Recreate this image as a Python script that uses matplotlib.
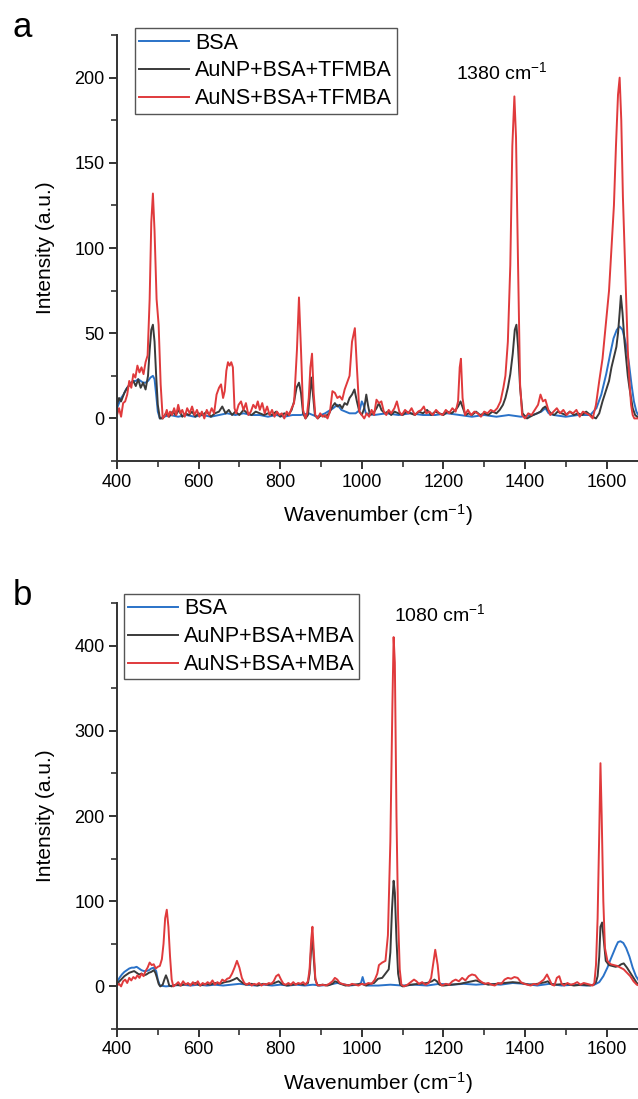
import matplotlib
matplotlib.use('Agg')
from matplotlib import pyplot as plt
from matplotlib.ticker import MultipleLocator

plt.rcParams['font.family'] = ['Liberation Sans', 'DejaVu Sans']
plt.rcParams['mathtext.fontset'] = 'custom'
plt.rcParams['mathtext.rm'] = 'Liberation Sans'
plt.rcParams['mathtext.it'] = 'Liberation Sans:italic'
plt.rcParams['mathtext.default'] = 'regular'

# spectra: (wavenumber, intensity)
# ---- panel a : TFMBA ----
bsa_a = [(400, 6), (405, 9), (410, 12), (416, 14), (422, 17), (428, 19), (434, 21), (440, 22), (446, 22),
         (452, 23), (458, 22), (464, 21), (470, 21), (476, 22), (482, 24), (488, 25), (492, 23), (496, 14),
         (500, 4), (505, 0), (515, 1), (530, 2), (550, 1), (570, 2), (590, 1), (610, 2), (630, 1), (650, 2),
         (670, 3), (690, 2), (710, 3), (730, 2), (750, 2), (770, 1), (790, 2), (810, 1), (830, 2), (850, 2),
         (870, 3), (890, 1), (910, 3), (930, 6), (940, 8), (950, 5), (960, 4), (970, 3), (985, 3), (995, 5),
         (1000, 10), (1004, 8), (1010, 3), (1030, 2), (1060, 3), (1090, 2), (1120, 3), (1150, 2), (1180, 2),
         (1210, 3), (1240, 2), (1270, 1), (1300, 2), (1330, 1), (1360, 2), (1390, 1), (1420, 2), (1440, 4),
         (1450, 6), (1458, 3), (1470, 2), (1500, 1), (1530, 2), (1560, 2), (1575, 6), (1587, 14), (1599, 26),
         (1609, 38), (1617, 47), (1625, 52), (1632, 54), (1639, 52), (1647, 44), (1655, 32), (1661, 20),
         (1667, 10), (1673, 4), (1680, 1)]

np_a = [(400, 8), (405, 12), (410, 10), (418, 15), (425, 18), (432, 20), (440, 22), (446, 19), (452, 23),
        (458, 18), (464, 21), (470, 17), (476, 25), (480, 40), (484, 52), (488, 55), (492, 45), (496, 25),
        (500, 8), (505, 0), (512, 0), (520, 3), (528, 1), (536, 4), (544, 2), (552, 5), (560, 1), (568, 3),
        (576, 2), (584, 4), (592, 1), (600, 3), (610, 2), (620, 4), (630, 1), (640, 3), (650, 4), (658, 7),
        (666, 3), (674, 5), (682, 2), (690, 4), (700, 2), (710, 5), (720, 3), (730, 2), (740, 4), (750, 3),
        (760, 2), (770, 3), (780, 2), (790, 4), (800, 1), (810, 3), (820, 2), (828, 5), (834, 10), (840, 18),
        (846, 21), (851, 15), (856, 3), (862, 0), (868, 2), (872, 12), (876, 24), (880, 15), (885, 2),
        (892, 0), (900, 2), (910, 1), (920, 3), (928, 7), (934, 9), (940, 7), (946, 8), (952, 6), (958, 9),
        (964, 8), (970, 12), (976, 14), (982, 17), (988, 10), (994, 4), (1000, 2), (1006, 6), (1011, 14),
        (1015, 8), (1020, 2), (1028, 3), (1036, 6), (1042, 9), (1048, 5), (1056, 3), (1064, 4), (1072, 2),
        (1080, 4), (1090, 3), (1100, 2), (1110, 4), (1120, 3), (1130, 2), (1140, 4), (1150, 3), (1160, 5),
        (1170, 2), (1180, 4), (1190, 3), (1200, 2), (1210, 4), (1220, 3), (1230, 5), (1236, 7), (1242, 10),
        (1248, 6), (1254, 2), (1262, 3), (1270, 2), (1280, 4), (1290, 2), (1300, 3), (1310, 2), (1320, 4),
        (1330, 3), (1338, 5), (1346, 8), (1352, 12), (1358, 18), (1364, 26), (1370, 38), (1375, 52),
        (1379, 55), (1383, 42), (1388, 18), (1394, 3), (1405, 0), (1420, 2), (1430, 3), (1438, 4), (1444, 6),
        (1450, 7), (1456, 5), (1464, 3), (1472, 2), (1480, 4), (1490, 3), (1500, 2), (1510, 4), (1520, 2),
        (1530, 3), (1540, 2), (1550, 4), (1560, 2), (1566, 1), (1574, 0), (1582, 3), (1590, 10), (1598, 16),
        (1606, 22), (1612, 30), (1618, 36), (1624, 42), (1628, 50), (1632, 62), (1635, 72), (1639, 62),
        (1644, 45), (1648, 35), (1652, 25), (1656, 18), (1660, 12), (1664, 6), (1670, 2), (1680, 0)]

ns_a = [(400, 2), (405, 6), (410, 1), (415, 9), (420, 10), (425, 14), (430, 22), (435, 18), (440, 26),
        (445, 24), (450, 31), (455, 27), (460, 30), (465, 26), (470, 33), (475, 37), (480, 70), (484, 115),
        (488, 132), (492, 110), (497, 70), (502, 55), (507, 20), (512, 0), (518, 2), (522, 5), (526, 1),
        (530, 4), (535, 2), (540, 6), (545, 2), (550, 8), (555, 3), (560, 5), (566, 1), (572, 6), (578, 3),
        (584, 7), (590, 2), (596, 5), (602, 1), (608, 4), (614, 0), (620, 5), (626, 2), (632, 6), (638, 3),
        (644, 14), (650, 18), (655, 20), (660, 12), (664, 16), (668, 28), (672, 33), (676, 31), (680, 33),
        (684, 30), (688, 6), (692, 3), (698, 8), (704, 10), (710, 5), (716, 9), (722, 2), (728, 4), (734, 8),
        (740, 6), (745, 10), (750, 5), (756, 9), (762, 3), (768, 7), (774, 2), (780, 5), (786, 1), (792, 4),
        (798, 2), (804, 3), (810, 0), (816, 4), (822, 2), (828, 6), (834, 9), (841, 40), (846, 71), (851, 40),
        (856, 5), (862, 0), (866, 3), (870, 12), (874, 30), (878, 38), (882, 15), (886, 2), (892, 0), (898, 3),
        (904, 1), (910, 2), (916, 0), (922, 4), (928, 16), (934, 15), (940, 12), (946, 13), (952, 11),
        (958, 17), (964, 21), (970, 25), (976, 45), (983, 53), (988, 30), (994, 4), (1000, 2), (1006, 0),
        (1012, 3), (1018, 1), (1024, 5), (1030, 2), (1036, 11), (1042, 9), (1048, 10), (1054, 4), (1060, 2),
        (1066, 5), (1072, 3), (1080, 6), (1086, 10), (1092, 4), (1098, 2), (1106, 5), (1114, 3), (1122, 6),
        (1130, 2), (1138, 4), (1146, 5), (1152, 7), (1158, 3), (1166, 4), (1174, 2), (1182, 5), (1190, 3),
        (1198, 2), (1206, 5), (1214, 3), (1222, 6), (1230, 4), (1236, 10), (1240, 30), (1243, 35), (1247, 12),
        (1253, 2), (1260, 5), (1268, 2), (1276, 4), (1284, 3), (1292, 1), (1300, 4), (1308, 3), (1316, 5),
        (1324, 4), (1332, 6), (1340, 10), (1347, 18), (1352, 25), (1358, 45), (1364, 90), (1369, 160),
        (1374, 189), (1378, 165), (1383, 90), (1388, 20), (1393, 2), (1400, 0), (1408, 3), (1416, 2),
        (1424, 5), (1432, 8), (1438, 14), (1444, 10), (1450, 11), (1456, 6), (1462, 2), (1470, 4), (1478, 6),
        (1486, 3), (1494, 5), (1502, 2), (1510, 4), (1518, 3), (1526, 5), (1534, 1), (1542, 4), (1550, 3),
        (1558, 2), (1566, 0), (1574, 8), (1582, 22), (1590, 35), (1598, 55), (1606, 75), (1612, 100),
        (1618, 125), (1623, 160), (1628, 190), (1632, 200), (1636, 175), (1640, 130), (1644, 100), (1648, 70),
        (1652, 40), (1656, 22), (1660, 8), (1664, 2), (1668, 0), (1680, 0)]

# ---- panel b : MBA ----
bsa_b = [(400, 5), (406, 10), (412, 14), (418, 17), (424, 19), (430, 21), (436, 22), (442, 22), (448, 23),
         (454, 21), (460, 19), (466, 18), (472, 18), (478, 19), (484, 21), (490, 22), (496, 18), (500, 8),
         (505, 1), (520, 0), (540, 1), (560, 2), (580, 1), (600, 2), (620, 1), (640, 2), (660, 1), (680, 2),
         (700, 3), (720, 2), (740, 1), (760, 2), (780, 1), (800, 2), (820, 1), (840, 2), (860, 1), (880, 2),
         (900, 1), (920, 2), (940, 4), (950, 3), (970, 1), (990, 2), (998, 4), (1002, 11), (1006, 4),
         (1012, 1), (1040, 1), (1070, 2), (1100, 1), (1130, 2), (1160, 1), (1190, 3), (1220, 2), (1250, 3),
         (1280, 2), (1310, 3), (1340, 2), (1370, 4), (1400, 3), (1430, 1), (1460, 3), (1490, 1), (1520, 2),
         (1550, 1), (1570, 2), (1582, 5), (1592, 12), (1602, 22), (1610, 32), (1617, 40), (1623, 47),
         (1628, 52), (1634, 53), (1641, 51), (1648, 45), (1656, 35), (1664, 22), (1672, 12), (1680, 6)]

np_b = [(400, 3), (406, 6), (412, 9), (418, 12), (424, 14), (430, 16), (436, 17), (442, 18), (448, 16),
        (454, 14), (460, 15), (466, 13), (472, 14), (478, 16), (484, 17), (490, 19), (494, 16), (498, 10),
        (502, 3), (506, 0), (512, 2), (516, 8), (520, 13), (524, 8), (528, 1), (534, 0), (544, 2), (556, 1),
        (568, 3), (580, 2), (592, 4), (604, 1), (616, 3), (628, 2), (640, 4), (652, 3), (664, 5), (676, 6),
        (686, 8), (694, 10), (700, 7), (708, 4), (716, 2), (730, 3), (744, 1), (758, 3), (772, 2), (786, 4),
        (796, 6), (804, 3), (816, 1), (830, 2), (844, 3), (858, 2), (868, 4), (872, 15), (876, 45), (879, 55),
        (882, 35), (886, 8), (892, 1), (904, 2), (916, 1), (928, 3), (934, 6), (940, 5), (948, 3), (960, 1),
        (980, 2), (1000, 3), (1010, 1), (1020, 3), (1030, 4), (1040, 9), (1050, 10), (1058, 15), (1066, 20),
        (1070, 40), (1074, 90), (1078, 124), (1081, 110), (1085, 55), (1089, 15), (1094, 2), (1100, 0),
        (1120, 2), (1140, 3), (1160, 4), (1172, 6), (1178, 8), (1184, 6), (1190, 2), (1200, 1), (1220, 2),
        (1240, 3), (1260, 5), (1280, 7), (1296, 4), (1310, 2), (1330, 3), (1350, 4), (1370, 5), (1390, 4),
        (1410, 2), (1430, 3), (1450, 5), (1456, 6), (1462, 3), (1475, 2), (1500, 3), (1520, 1), (1540, 2),
        (1560, 1), (1568, 2), (1574, 5), (1578, 12), (1582, 35), (1585, 70), (1589, 75), (1593, 55),
        (1598, 30), (1606, 25), (1614, 24), (1622, 23), (1630, 24), (1636, 26), (1642, 27), (1650, 22),
        (1658, 16), (1666, 10), (1674, 4), (1680, 2)]

ns_b = [(400, 1), (405, 3), (410, 0), (415, 6), (420, 8), (425, 4), (430, 10), (435, 7), (440, 11),
        (445, 9), (450, 13), (455, 10), (460, 15), (465, 12), (470, 18), (475, 22), (480, 28), (485, 25),
        (490, 26), (495, 21), (500, 23), (505, 24), (510, 32), (514, 50), (518, 80), (522, 90), (526, 70),
        (530, 35), (534, 8), (538, 0), (544, 2), (550, 5), (556, 1), (562, 6), (568, 2), (574, 4), (580, 1),
        (586, 5), (592, 2), (598, 6), (604, 1), (610, 4), (616, 2), (622, 5), (628, 3), (634, 7), (640, 2),
        (646, 5), (652, 3), (658, 8), (664, 6), (670, 9), (676, 10), (682, 15), (688, 22), (694, 30),
        (700, 22), (706, 10), (712, 4), (718, 2), (724, 4), (730, 1), (736, 3), (742, 2), (748, 4), (754, 1),
        (760, 3), (766, 2), (772, 4), (778, 3), (784, 6), (790, 12), (796, 14), (802, 8), (808, 3), (814, 2),
        (820, 4), (826, 2), (832, 5), (838, 2), (844, 4), (850, 3), (856, 5), (862, 2), (868, 6), (872, 20),
        (876, 55), (879, 70), (882, 45), (886, 10), (890, 2), (896, 1), (904, 2), (912, 1), (920, 3),
        (928, 6), (934, 10), (940, 8), (946, 4), (952, 3), (960, 2), (968, 1), (976, 3), (984, 2), (992, 1),
        (1000, 3), (1008, 2), (1016, 4), (1024, 3), (1032, 8), (1038, 15), (1042, 25), (1050, 28),
        (1058, 30), (1064, 60), (1070, 170), (1075, 330), (1078, 410), (1081, 380), (1085, 200), (1089, 80),
        (1093, 20), (1097, 2), (1104, 0), (1112, 2), (1120, 5), (1128, 8), (1134, 6), (1140, 3), (1148, 5),
        (1156, 2), (1164, 4), (1170, 10), (1176, 30), (1180, 43), (1186, 25), (1190, 5), (1196, 1),
        (1206, 3), (1214, 2), (1222, 6), (1230, 8), (1238, 6), (1246, 10), (1254, 7), (1262, 12), (1270, 14),
        (1278, 13), (1286, 8), (1294, 5), (1302, 3), (1310, 4), (1318, 2), (1326, 1), (1334, 4), (1342, 3),
        (1350, 8), (1358, 10), (1366, 9), (1374, 11), (1382, 10), (1390, 5), (1398, 3), (1406, 2), (1414, 1),
        (1422, 3), (1430, 2), (1438, 5), (1446, 8), (1454, 14), (1460, 8), (1466, 2), (1472, 1), (1478, 10),
        (1484, 12), (1490, 3), (1496, 1), (1504, 4), (1512, 2), (1520, 3), (1528, 5), (1536, 2), (1544, 4),
        (1552, 3), (1560, 2), (1566, 1), (1570, 4), (1574, 25), (1578, 80), (1582, 180), (1585, 262),
        (1588, 200), (1592, 100), (1596, 45), (1602, 30), (1610, 26), (1618, 25), (1626, 24), (1634, 22),
        (1642, 20), (1650, 16), (1658, 12), (1666, 6), (1674, 2), (1680, 1)]

labels_a = ['BSA', 'AuNP+BSA+TFMBA', 'AuNS+BSA+TFMBA']
labels_b = ['BSA', 'AuNP+BSA+MBA', 'AuNS+BSA+MBA']
colors = ['#2a72c8', '#3a3a3a', '#e03a3c']

fig = plt.figure(figsize=(6.38, 10.99), dpi=100)
ax1 = fig.add_axes([0.1834, 0.5805, 0.8166, 0.3876])
ax2 = fig.add_axes([0.1834, 0.0637, 0.8166, 0.3876])

panels = [
    (ax1, [bsa_a, np_a, ns_a], labels_a, (-25, 225), 50, 25,
     (1232, 203, '1380 cm$^{-1}$'), (0.0345, 1.016), 'a'),
    (ax2, [bsa_b, np_b, ns_b], labels_b, (-50, 450), 100, 50,
     (1080, 437, '1080 cm$^{-1}$'), (0.013, 1.021), 'b'),
]

for ax, series, labels, ylim, maj, mnr, ann, lpos, letter in panels:
    for data, lab, col in zip(series, labels, colors):
        xs, ys = zip(*data)
        ax.plot(xs, ys, color=col, linewidth=1.4, label=lab)

    ax.set_xlim(400, 1677)
    ax.set_ylim(*ylim)
    ax.xaxis.set_major_locator(MultipleLocator(200))
    ax.xaxis.set_minor_locator(MultipleLocator(100))
    ax.yaxis.set_major_locator(MultipleLocator(maj))
    ax.yaxis.set_minor_locator(MultipleLocator(mnr))
    ax.set_yticks([t for t in ax.get_yticks() if 0 <= t <= ylim[1] - mnr])

    for s in ['top', 'right']:
        ax.spines[s].set_visible(False)
    for s in ['left', 'bottom']:
        ax.spines[s].set_linewidth(1.4)
        ax.spines[s].set_color('#333333')
    ax.tick_params(which='major', direction='out', length=6, width=1.4, color='#333333',
                   labelsize=13, pad=3)
    ax.tick_params(which='minor', direction='out', length=4, width=1.2, color='#333333')

    ax.set_xlabel('Wavenumber (cm$^{-1}$)', fontsize=15, labelpad=8)
    ax.set_ylabel('Intensity (a.u.)', fontsize=15, labelpad=14)

    ax.text(ann[0], ann[1], ann[2], fontsize=14, va='center', ha='left')

    leg = ax.legend(loc='upper left', bbox_to_anchor=lpos, fontsize=15.5, frameon=True,
                    fancybox=False, edgecolor='#555555', framealpha=1,
                    handlelength=2.3, handletextpad=0.3, labelspacing=0.32,
                    borderpad=0.2, borderaxespad=0)
    leg.get_frame().set_linewidth(1.0)

    fig.text(0.02, ax.get_position().y1 - 0.002, letter, fontsize=25, va='baseline')

fig.savefig('out.png', dpi=100)
